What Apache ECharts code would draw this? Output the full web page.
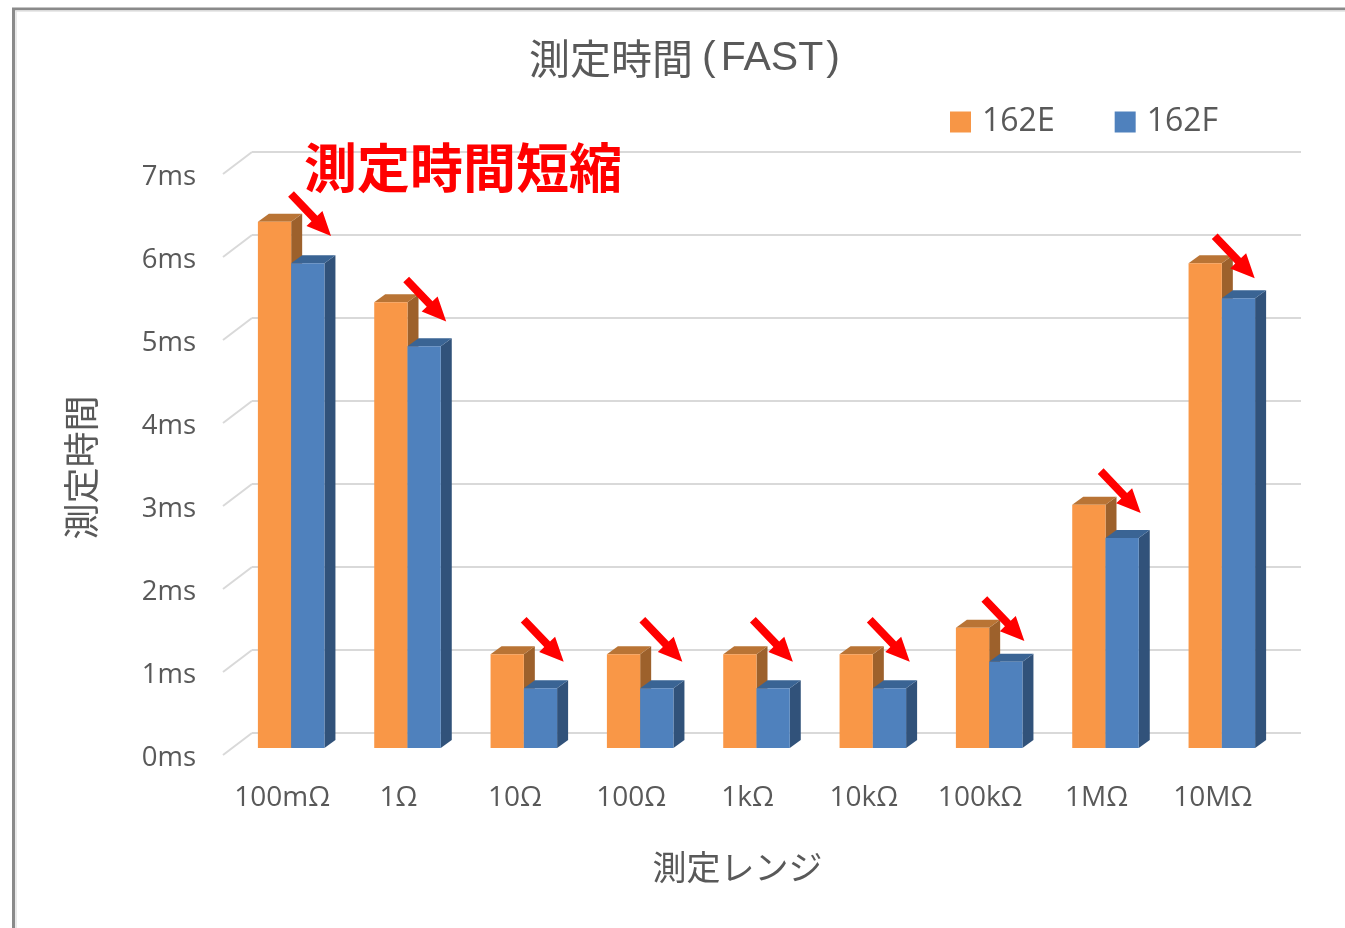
<!DOCTYPE html>
<html>
<head>
<meta charset="utf-8">
<title>測定時間(FAST)</title>
<script src="https://cdn.jsdelivr.net/npm/echarts@6/dist/echarts.min.js"></script>
<style>
  html, body { margin: 0; padding: 0; background: #fff; }
  #chart { width: 1345px; height: 928px; }
</style>
</head>
<body>
<div id="chart"></div>
<script>
  const categories = ['100mΩ', '1Ω', '10Ω', '100Ω', '1kΩ', '10kΩ', '100kΩ', '1MΩ', '10MΩ']
  const values162E = [6.34, 5.37, 1.13, 1.13, 1.13, 1.13, 1.45, 2.93, 5.84]
  const values162F = [5.84, 4.84, 0.72, 0.72, 0.72, 0.72, 1.04, 2.53, 5.42]
  const yTicks = [0, 1, 2, 3, 4, 5, 6, 7]
  // 矢印の先端: 値の高さと、カテゴリ中心からのずれ(カテゴリ幅に対する割合)
  const arrowTipValues = [6.17, 5.14, 1.04, 1.04, 1.04, 1.04, 1.29, 2.83, 5.66]
  const arrowTipShifts = [0.42, 0.41, 0.42, 0.44, 0.39, 0.395, 0.38, 0.38, 0.36]

  const font = '"Open Sans", "Noto Sans CJK JP", sans-serif'
  const cjkFont = '"Noto Sans CJK JP", sans-serif'
  const latinFont = '"Liberation Sans", sans-serif'
  const textColor = '#595959'

  // 棒は床の奥行きの途中に立っているので、前面の軸から少しずらす
  const planeDx = 9
  const planeDy = -10
  const depthX = 11
  const depthY = 8

  function makeBarRender(side, frontColor, topColor, sideColor) {
    return function (params, api) {
      const base = api.coord([api.value(0), 0])
      const top = api.coord([api.value(0), api.value(1)])
      const w = api.size([1, 0])[0] * 0.286
      const x0 = base[0] + planeDx + (side === 0 ? -w : 0)
      const x1 = x0 + w
      const y0 = top[1] + planeDy
      const y1 = base[1] + planeDy
      return {
        type: 'group',
        children: [
          { type: 'polygon', shape: { points: [[x1, y0], [x1 + depthX, y0 - depthY], [x1 + depthX, y1 - depthY], [x1, y1]] }, style: { fill: sideColor } },
          { type: 'polygon', shape: { points: [[x0, y0], [x0 + depthX, y0 - depthY], [x1 + depthX, y0 - depthY], [x1, y0]] }, style: { fill: topColor } },
          { type: 'rect', shape: { x: x0, y: y0, width: w, height: y1 - y0 }, style: { fill: frontColor } }
        ]
      }
    }
  }

  function renderDiagonal(params, api) {
    const p = api.coord([0, api.value(1)])
    const x = params.coordSys.x - 1
    const y = p[1] - 3
    return {
      type: 'line',
      shape: { x1: x, y1: y, x2: x + 29, y2: y - 22 },
      style: { stroke: '#d9d9d9', lineWidth: 2 }
    }
  }

  function renderArrow(params, api) {
    const p = api.coord([api.value(0), api.value(1)])
    const band = api.size([1, 0])[0]
    const tx = p[0] + arrowTipShifts[params.dataIndex] * band
    const ty = p[1] + planeDy
    const ux = 0.69, uy = 0.724
    const nx = -uy, ny = ux
    const pt = function (along, across) {
      return [tx - ux * along + nx * across, ty - uy * along + ny * across]
    }
    return {
      type: 'polygon',
      shape: { points: [pt(0, 0), pt(24, 11), pt(24, 4), pt(58, 4), pt(58, -4), pt(24, -4), pt(24, -11)] },
      style: { fill: '#ff0000' }
    }
  }

  const chart = echarts.init(document.getElementById('chart'))
  chart.setOption({
    animation: false,
    backgroundColor: '#ffffff',
    textStyle: { fontFamily: font },
    title: [
      {
        text: '{a|測定時間}{c|(}{b|FAST}{d|)}',
        left: 524, top: 33,
        textStyle: {
          rich: {
            a: { fontFamily: cjkFont, fontSize: 41, fontWeight: 'normal', color: textColor },
            b: { fontFamily: latinFont, fontSize: 41, fontWeight: 'normal', color: textColor },
            c: { fontFamily: latinFont, fontSize: 41, fontWeight: 'normal', color: textColor, padding: [0, 5, 0, 9] },
            d: { fontFamily: latinFont, fontSize: 41, fontWeight: 'normal', color: textColor, padding: [0, 0, 0, 3] }
          }
        }
      },
      {
        text: '測定時間短縮',
        left: 299, top: 136,
        textStyle: { fontFamily: cjkFont, fontSize: 53, fontWeight: 'bold', color: '#ff0000' }
      }
    ],
    legend: {
      data: ['162E', '162F'],
      left: 945, top: 101,
      icon: 'rect',
      itemWidth: 21, itemHeight: 21, itemGap: 60,
      textStyle: { fontFamily: font, fontSize: 32, color: textColor, padding: [0, 0, 0, 6] }
    },
    grid: [
      { left: 224, top: 177, width: 1047, height: 581 },
      { left: 252, top: 152, width: 1049, height: 581 }
    ],
    xAxis: [
      {
        type: 'category', gridIndex: 0, data: categories,
        name: '測定レンジ', nameLocation: 'middle', nameGap: 92,
        nameTextStyle: { fontFamily: cjkFont, fontSize: 34, color: textColor, padding: [0, 20, 0, 0] },
        axisLine: { show: false }, axisTick: { show: false },
        axisLabel: { interval: 0, fontFamily: font, fontSize: 28, color: textColor, margin: 26 }
      },
      { type: 'category', gridIndex: 1, data: categories, show: false }
    ],
    yAxis: [
      {
        type: 'value', gridIndex: 0, min: 0, max: 7, interval: 1,
        name: '測定時間', nameLocation: 'middle', nameGap: 125,
        nameTextStyle: { fontFamily: cjkFont, fontSize: 36, color: textColor },
        axisLine: { show: false }, axisTick: { show: false }, splitLine: { show: false },
        axisLabel: { formatter: '{value}ms', fontFamily: font, fontSize: 27.5, color: textColor, margin: 28 }
      },
      {
        type: 'value', gridIndex: 1, min: 0, max: 7, interval: 1,
        axisLine: { show: false }, axisTick: { show: false }, axisLabel: { show: false },
        splitLine: { show: true, lineStyle: { color: '#d9d9d9', width: 2 } }
      }
    ],
    graphic: [
      {
        type: 'polyline',
        shape: { points: [[13.5, 928], [13.5, 9], [1345, 9]] },
        style: { stroke: '#8a8a8a', lineWidth: 3, fill: null }
      },
      {
        type: 'polyline',
        shape: { points: [[16, 928], [16, 11], [1345, 11]] },
        style: { stroke: '#e2e2e2', lineWidth: 1.5, fill: null }
      }
    ],
    series: [
      {
        type: 'custom', silent: true, z: 1,
        renderItem: renderDiagonal,
        data: yTicks.map(function (t) { return [0, t] })
      },
      {
        name: '162E', type: 'custom', z: 2,
        itemStyle: { color: '#f79646' },
        renderItem: makeBarRender(0, '#f99747', '#b97435', '#9d612c'),
        data: values162E.map(function (v, i) { return [i, v] })
      },
      {
        name: '162F', type: 'custom', z: 3,
        itemStyle: { color: '#4f81bd' },
        renderItem: makeBarRender(1, '#4f81bd', '#3a6494', '#31527a'),
        data: values162F.map(function (v, i) { return [i, v] })
      },
      {
        type: 'custom', silent: true, z: 4,
        renderItem: renderArrow,
        data: arrowTipValues.map(function (v, i) { return [i, v] })
      }
    ]
  })
</script>
</body>
</html>
